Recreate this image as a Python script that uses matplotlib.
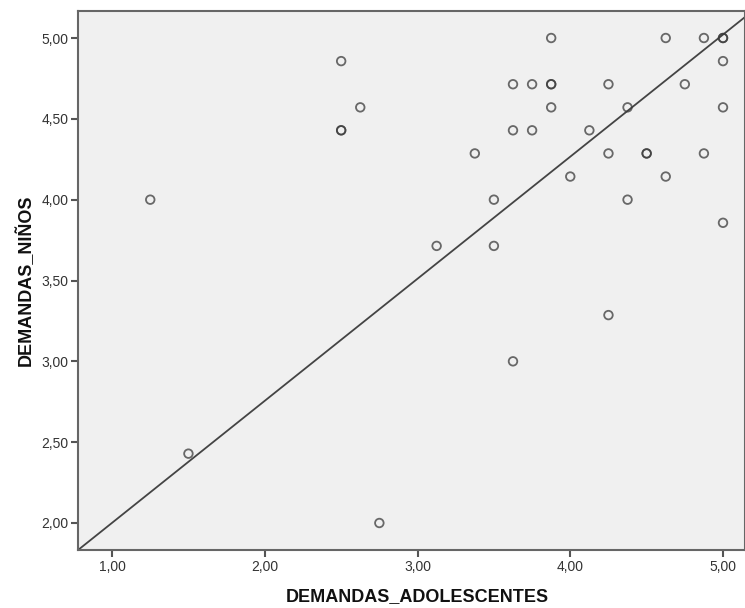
import numpy as np
import matplotlib
matplotlib.use("Agg")
import matplotlib.pyplot as plt
from matplotlib.ticker import FuncFormatter

plt.rcParams['font.family'] = ['Liberation Sans', 'DejaVu Sans']

# datos (x = adolescentes, y = ninos)
adolescentes = [1.25, 1.5, 2.75, 2.5, 2.625, 2.5, 2.5, 3.125, 3.375, 3.5, 3.5,
                3.625, 3.625, 3.625, 3.75, 3.75, 3.875, 3.875, 3.875, 3.875,
                4.0, 4.125, 4.25, 4.25, 4.25, 4.375, 4.375, 4.5, 4.5, 4.625,
                4.625, 4.75, 4.875, 4.875, 5.0, 5.0, 5.0, 5.0, 5.0]
ninos = [4.0, 2.429, 2.0, 4.857, 4.571, 4.429, 4.429, 3.714, 4.286, 4.0, 3.714,
         4.714, 4.429, 3.0, 4.714, 4.429, 5.0, 4.714, 4.714, 4.571,
         4.143, 4.429, 4.714, 4.286, 3.286, 4.571, 4.0, 4.286, 4.286, 5.0,
         4.143, 4.714, 5.0, 4.286, 5.0, 5.0, 4.857, 4.571, 3.857]
xticks = [1.0, 2.0, 3.0, 4.0, 5.0]
yticks = [2.0, 2.5, 3.0, 3.5, 4.0, 4.5, 5.0]
# recta de ajuste tal como aparece en el grafico
fit_intercept = 1.246
fit_slope = 0.755

x = np.array(adolescentes)
y = np.array(ninos)

fig = plt.figure(figsize=(7.45, 6.08), dpi=100)
ax = fig.add_axes([0.1047, 0.0954, 0.8953, 0.8865])
ax.set_facecolor('#f0f0f0')

xlim = (0.777, 5.144)
ylim = (1.833, 5.167)

xx = np.array(xlim)
ax.plot(xx, fit_intercept + fit_slope * xx, color='#444444', lw=1.3, zorder=2)

ax.scatter(x, y, s=38, facecolors='none', edgecolors='#3a3a3a',
           linewidths=1.3, alpha=0.75, zorder=3)

ax.set_xlim(*xlim)
ax.set_ylim(*ylim)
ax.set_xticks(xticks)
ax.set_yticks(yticks)
fmt = FuncFormatter(lambda v, p: ('%.2f' % v).replace('.', ','))
ax.xaxis.set_major_formatter(fmt)
ax.yaxis.set_major_formatter(fmt)
ax.tick_params(axis='both', direction='out', length=5, width=1.5,
               color='#555555', labelsize=10, labelcolor='#333333', pad=2)

for s in ax.spines.values():
    s.set_color('#666666')
    s.set_linewidth(1.5)

ax.set_xlabel('DEMANDAS_ADOLESCENTES', fontsize=13, fontweight='bold',
              color='#111111')
ax.set_ylabel('DEMANDAS_NIÑOS', fontsize=13, fontweight='bold',
              color='#111111')
ax.xaxis.set_label_coords(0.508, -0.071)
ax.yaxis.set_label_coords(-0.065, 0.5)

fig.savefig('out.png', dpi=100)
